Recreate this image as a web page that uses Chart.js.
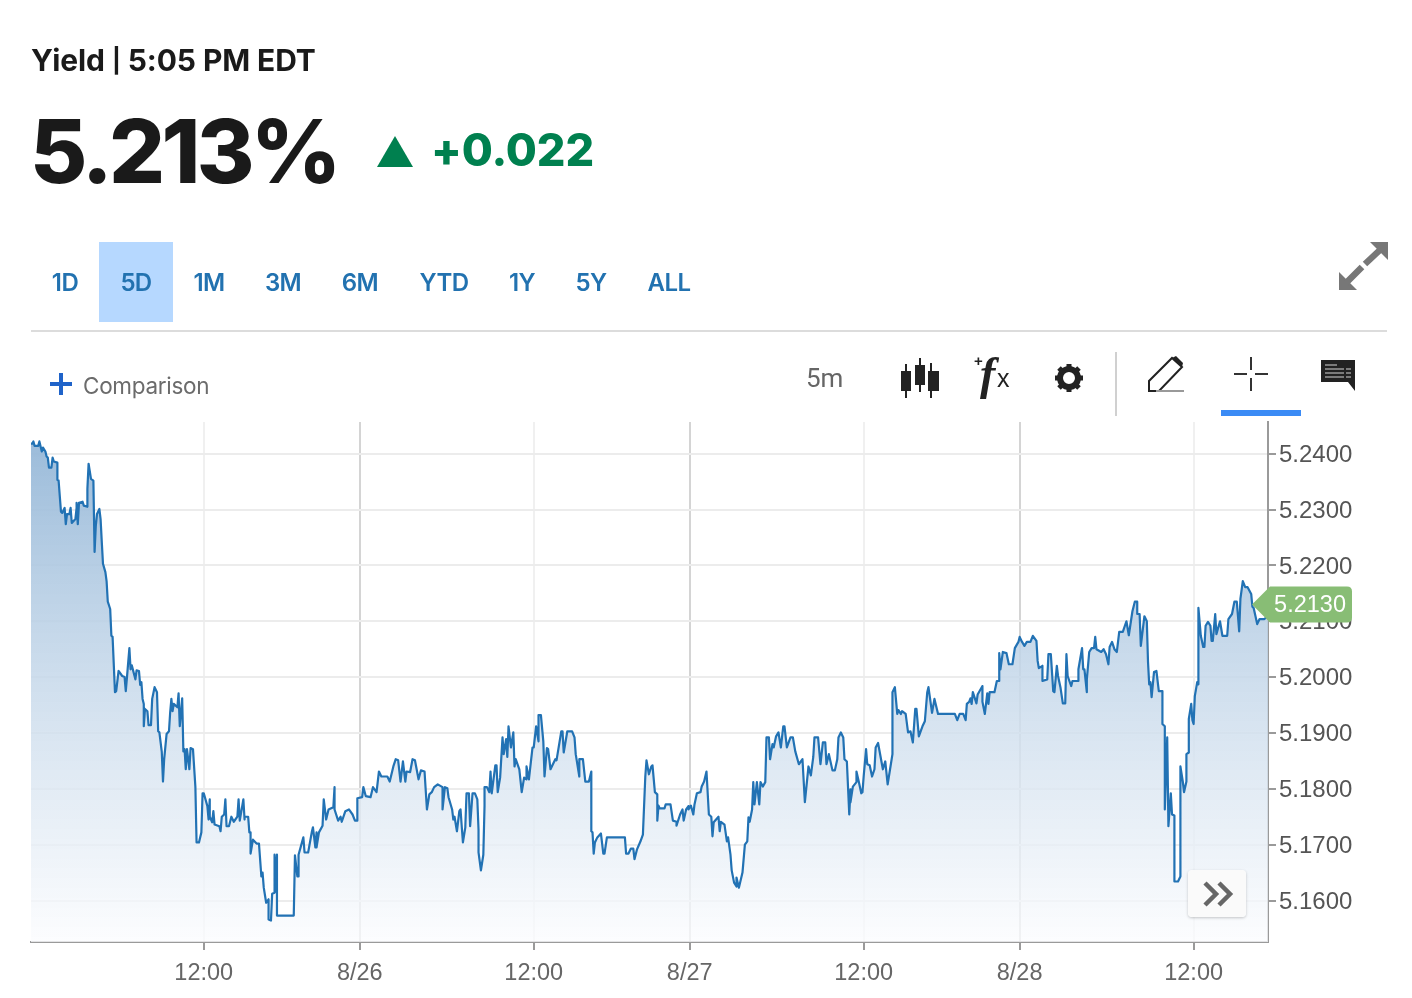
<!DOCTYPE html>
<html>
<head>
<meta charset="utf-8">
<title>Yield</title>
<script src="https://cdn.jsdelivr.net/npm/chart.js@4"></script>
<style>
  html, body { margin: 0; background: #fff; }
  body { position: relative; width: 1412px; height: 998px; overflow: hidden; font-family: Inter, Lato, sans-serif; }
  #chartBox { position: absolute; left: 0; top: 0; width: 1412px; height: 998px; }
  .abs { position: absolute; white-space: nowrap; }
  .tab { position: absolute; top: 242px; height: 80px; text-align: center; color: #2272b0; font: 600 24px/81px Inter, sans-serif; letter-spacing: -0.6px; }
  svg { position: absolute; overflow: visible; }
</style>
</head>
<body>
<div id="chartBox"><canvas id="yieldChart" width="1412" height="998"></canvas></div>

<!-- cabecalho -->
<div class="abs" style="left:31px;top:42px;font:700 30px/36px Inter,sans-serif;color:#1a1a1a;letter-spacing:-0.1px">Yield <span style="font-size:24px;vertical-align:2px">|</span> 5:05 PM EDT</div>
<div class="abs" style="left:30px;top:96px;font:800 88px/110px Inter,sans-serif;color:#1a1a1a;letter-spacing:-3.7px">5.213%</div>
<svg style="left:377px;top:136px" width="36" height="31"><path d="M18 0 L36 31 L0 31 Z" fill="#00804f"/></svg>
<div class="abs" style="left:431px;top:122px;font:800 45px/56px Inter,sans-serif;color:#00804f;letter-spacing:-0.1px">+0.022</div>

<!-- botoes de periodo -->
<div class="abs" style="left:99px;top:242px;width:74px;height:80px;background:#b6d8ff"></div>
<div class="tab" style="left:31px;width:68px">1D</div>
<div class="tab" style="left:99px;width:74px">5D</div>
<div class="tab" style="left:173px;width:72px">1M</div>
<div class="tab" style="left:247px;width:72px">3M</div>
<div class="tab" style="left:324px;width:72px">6M</div>
<div class="tab" style="left:408px;width:72px">YTD</div>
<div class="tab" style="left:486px;width:72px">1Y</div>
<div class="tab" style="left:555px;width:72px">5Y</div>
<div class="tab" style="left:633px;width:72px">ALL</div>
<svg style="left:1338px;top:241px" width="50" height="50">
  <path d="M32 1 L50 1 L50 19 Z M1 49 L1 31 L19 49 Z" fill="#777"/>
  <path d="M43 8 L27 23 M24 26 L8 42" stroke="#777" stroke-width="6.5" fill="none"/>
</svg>
<div class="abs" style="left:31px;top:330px;width:1356px;height:2px;background:#dcdcdc"></div>

<!-- barra de ferramentas -->
<svg style="left:50px;top:373px" width="22" height="22" fill="#1f63c9"><rect x="9" y="0" width="4" height="22"/><rect x="0" y="9" width="22" height="4"/></svg>
<div class="abs" style="left:83px;top:372px;font:400 22.5px/28px Inter,sans-serif;color:#6b6b6b;letter-spacing:-0.3px">Comparison</div>
<div class="abs" style="left:806px;top:362px;font:400 26px/32px Roboto,sans-serif;color:#666">5m</div>
<svg style="left:900px;top:358px" width="40" height="40" fill="#222">
  <rect x="5" y="6" width="2" height="34"/><rect x="1" y="13" width="10" height="20"/>
  <rect x="19" y="0" width="2" height="34"/><rect x="15" y="7" width="10" height="20"/>
  <rect x="30" y="5" width="2" height="35"/><rect x="28" y="13" width="11" height="20"/>
</svg>
<div class="abs" style="left:974px;top:350px;font:700 15px/22px 'Liberation Sans',sans-serif;color:#222">+</div>
<div class="abs" style="left:980px;top:348px;font:italic 700 46px/52px 'Liberation Serif',serif;color:#222">f</div>
<div class="abs" style="left:997px;top:364px;font:400 25px/28px 'Liberation Sans',sans-serif;color:#222">x</div>
<svg style="left:1055px;top:364px" width="28" height="28">
  <circle cx="14" cy="14" r="9" fill="none" stroke="#222" stroke-width="6"/>
  <g stroke="#222" stroke-width="5">
    <path d="M14 0 V5 M14 23 V28 M0 14 H5 M23 14 H28 M4 4 L8 8 M20 20 L24 24 M24 4 L20 8 M8 20 L4 24"/>
  </g>
</svg>
<div class="abs" style="left:1115px;top:352px;width:2px;height:64px;background:#d0d0d0"></div>
<svg style="left:1148px;top:356px" width="36" height="36">
  <path d="M1 35 L1 25 L24 2 L34 11 L11 35 Z" fill="none" stroke="#222" stroke-width="2"/>
  <path d="M24 2 L28 0 L35 7 L34 11 Z" fill="#222"/>
  <rect x="8" y="34" width="28" height="2" fill="#999"/>
</svg>
<svg style="left:1234px;top:357px" width="34" height="34" fill="#333">
  <rect x="16" y="0" width="2" height="13"/><rect x="16" y="21" width="2" height="13"/>
  <rect x="0" y="16" width="13" height="2"/><rect x="21" y="16" width="13" height="2"/>
</svg>
<div class="abs" style="left:1221px;top:410px;width:80px;height:6px;background:#3b8bf5"></div>
<svg style="left:1321px;top:360px" width="34" height="31">
  <path d="M0 0 H34 V31 L27 22 H0 Z" fill="#222"/>
  <path d="M4 5 H16 M4 9 H23 M4 13 H23 M4 17 H23 M25 9 H30 M25 13 H30 M25 17 H30" stroke="#999" stroke-width="1.5"/>
</svg>

<!-- botao de avancar -->
<div class="abs" style="left:1188px;top:870px;width:58px;height:47px;background:rgba(250,250,250,0.95);border-radius:4px;box-shadow:0 1px 3px rgba(0,0,0,0.22)">
  <svg style="left:16px;top:11px" width="30" height="26" fill="none" stroke="#666" stroke-width="4.5">
    <path d="M1 2 L12 13 L1 24 M15 2 L26 13 L15 24"/>
  </svg>
</div>

<script>
// Yield em barras de 5 minutos
const bars = [
  0,1,2,3,6,7,8,9,10,12,
  13,14,15,17,18,19,22,22,23,25,
  26,28,29,30,32,33,34,37,38,38,
  39,40,43,44,47,47,48,50,52,53,
  54,55,57,58,59,60,62,63,64,66,
  67,68,70,71,73,76,78,79,80,82,
  83,84,87,88,90,91,92,93,94,94,
  95,97,98,100,101,103,105,106,107,109,
  110,111,113,115,116,117,118,119,122,123,
  124,126,127,128,129,130,132,133,135,137,
  138,140,142,143,144,147,148,149,149,151,
  152,153,157,158,159,161,162,163,165,167,
  169,172,173,174,177,178,178,181,182,183,
  183,185,188,190,192,193,194,196,198,198,
  200,201,203,203,204,205,205,219,220,222,
  223,223,227,228,231,234,235,237,238,238,
  240,243,244,246,248,252,253,253,256,258,
  259,262,265,268,270,272,272,276,277,279,
  283,285,288,290,292,297,299,302,304,306,
  308,310,312,313,316,318,320,323,325,328,
  330,332,334,336,339,343,343,345,347,348,
  351,352,353,355,357,358,359,360,362,362,
  363,365,366,368,370,372,373,373,375,377,
  378,378,380,382,383,384,387,388,389,391,
  393,394,396,397,398,400,402,403,404,407,
  409,411,413,413,415,418,419,421,423,423,
  425,427,428,430,431,433,437,438,442,443,
  444,447,451,453,454,457,457,460,462,465,
  467,467,468,469,470,472,475,477,478,480,
  495,496,498,500,502,503,505,508,510,512,
  513,515,517,518,520,522,522,523,524,528,
  529,533,535,538,538,541,543,544,546,548,
  548,550,552,553,555,558,559,561,563,565,
  567,568,569,573,574,575,578,580,581,583,
  584,586,588,588,590,593,595,597,598,599,
  601,602,603,605,607,608,610,612,613,615,
  616,618,619,621,623,625,627,628,630,633,
  635,637,640,643,645,648,650,652,653,656,
  658,660,662,663,665,668,670,672,673,675,
  677,678,680,682,683,683,685,688,688,690,
  692,693,694,696,697,699,701,703,704,706,
  710,712,714,716,718,718,720,722,723,725,
  726,729,731,733,735,737,738,740,743,745,
  747,748,751,753,756,770,772,774,777,779,
  780,782,783,784,785,788,789,793,793,795,
  797,798,799,803,805,807,807,808,810,813,
  815,818,820,823,824,826,828,830,833,835,
  838,839,840,843,843,847,848,850,852,853,
  855,856,858,860,862,863,864,867,868,873,
  873,876,877,878,880,880,882,884,886,887,
  888,892,894,896,898,899,901,903,905,907,
  910,913,915,918,920,922,922,924,925,928,
  930,931,932,933,934,936,938,940,943,943,
  945,945,947,948,950,951,953,953,956,958,
  958,960,961,963,963,965,965,967,968,969,
  970,972,973,973,975,977,978,979,981,983,
  984,985,987,988,991,993,997,998,1001,1003,
  1005,1007,1008,1010,1012,1014,1017,1018,1019,1022,
  1024,1028,1031
];

const yields = [
  5.2418,5.2418,5.2422,5.2414,5.2414,5.2422,5.2413,5.2404,5.2411,5.2404,
  5.2395,5.2393,5.2375,5.2375,5.2393,5.2386,5.2384,5.2353,5.2352,5.2296,
  5.2294,5.2303,5.2274,5.2292,5.2292,5.2303,5.2276,5.2283,5.2303,5.2312,
  5.2274,5.2312,5.2314,5.2307,5.2305,5.2337,5.2382,5.2355,5.2352,5.2224,
  5.2271,5.2292,5.2301,5.2283,5.2242,5.2203,5.2188,5.2172,5.2135,5.2122,
  5.2074,5.2072,5.1973,5.1975,5.2011,5.2002,5.2000,5.1975,5.2000,5.2052,
  5.2014,5.2021,5.1996,5.2012,5.2011,5.1986,5.1991,5.1961,5.1952,5.1912,
  5.1943,5.1939,5.1914,5.1914,5.1961,5.1982,5.1973,5.1903,5.1901,5.1866,
  5.1813,5.1853,5.1898,5.1903,5.1937,5.1961,5.1939,5.1952,5.1946,5.1971,
  5.1912,5.1962,5.1867,5.1871,5.1835,5.1871,5.1835,5.1873,5.1871,5.1804,
  5.1704,5.1704,5.1722,5.1792,5.1792,5.1769,5.1745,5.1781,5.1750,5.1740,
  5.1760,5.1736,5.1733,5.1724,5.1750,5.1754,5.1781,5.1733,5.1733,5.1750,
  5.1741,5.1750,5.1781,5.1743,5.1781,5.1745,5.1750,5.1750,5.1722,5.1722,
  5.1684,5.1709,5.1702,5.1702,5.1643,5.1650,5.1623,5.1596,5.1602,5.1566,
  5.1564,5.1612,5.1614,5.1682,5.1616,5.1682,5.1573,5.1573,5.1681,5.1643,
  5.1643,5.1682,5.1713,5.1686,5.1686,5.1722,5.1731,5.1695,5.1722,5.1695,
  5.1722,5.1734,5.1781,5.1745,5.1763,5.1767,5.1803,5.1763,5.1743,5.1750,
  5.1741,5.1760,5.1763,5.1754,5.1743,5.1743,5.1783,5.1785,5.1803,5.1787,
  5.1785,5.1803,5.1794,5.1831,5.1822,5.1822,5.1813,5.1840,5.1853,5.1851,
  5.1813,5.1849,5.1813,5.1831,5.1830,5.1853,5.1851,5.1817,5.1833,5.1831,
  5.1763,5.1790,5.1794,5.1803,5.1808,5.1803,5.1763,5.1803,5.1801,5.1785,
  5.1763,5.1745,5.1750,5.1724,5.1760,5.1763,5.1733,5.1704,5.1731,5.1733,
  5.1792,5.1792,5.1733,5.1792,5.1792,5.1781,5.1727,5.1686,5.1654,5.1682,
  5.1769,5.1803,5.1803,5.1794,5.1831,5.1792,5.1842,5.1842,5.1794,5.1820,
  5.1892,5.1862,5.1889,5.1857,5.1912,5.1874,5.1901,5.1840,5.1853,5.1835,
  5.1794,5.1820,5.1817,5.1840,5.1817,5.1874,5.1874,5.1912,5.1885,5.1932,
  5.1932,5.1885,5.1822,5.1873,5.1871,5.1835,5.1853,5.1851,5.1903,5.1903,
  5.1865,5.1903,5.1903,5.1892,5.1862,5.1822,5.1853,5.1853,5.1813,5.1813,
  5.1831,5.1724,5.1722,5.1684,5.1704,5.1713,5.1720,5.1684,5.1684,5.1713,
  5.1713,5.1684,5.1684,5.1693,5.1693,5.1674,5.1691,5.1706,5.1718,5.1822,
  5.1851,5.1826,5.1840,5.1842,5.1794,5.1790,5.1743,5.1770,5.1765,5.1765,
  5.1772,5.1772,5.1743,5.1741,5.1734,5.1754,5.1763,5.1743,5.1763,5.1769,
  5.1763,5.1770,5.1754,5.1772,5.1792,5.1794,5.1804,5.1813,5.1831,5.1754,
  5.1750,5.1715,5.1740,5.1750,5.1724,5.1741,5.1736,5.1706,5.1713,5.1682,
  5.1654,5.1632,5.1625,5.1641,5.1623,5.1650,5.1700,5.1706,5.1749,5.1741,
  5.1763,5.1812,5.1772,5.1812,5.1772,5.1812,5.1804,5.1812,5.1892,5.1892,
  5.1853,5.1880,5.1874,5.1894,5.1901,5.1874,5.1912,5.1912,5.1874,5.1892,
  5.1892,5.1867,5.1844,5.1853,5.1776,5.1840,5.1824,5.1857,5.1892,5.1892,
  5.1844,5.1883,5.1883,5.1844,5.1862,5.1833,5.1833,5.1853,5.1892,5.1901,
  5.1892,5.1853,5.1849,5.1754,5.1799,5.1776,5.1804,5.1812,5.1831,5.1812,
  5.1792,5.1794,5.1822,5.1871,5.1844,5.1842,5.1822,5.1835,5.1874,5.1882,
  5.1835,5.1849,5.1808,5.1835,5.1862,5.1973,5.1982,5.1934,5.1941,5.1934,
  5.1939,5.1934,5.1901,5.1903,5.1883,5.1943,5.1943,5.1894,5.1912,5.1921,
  5.1973,5.1982,5.1936,5.1961,5.1934,5.1934,5.1923,5.1934,5.1934,5.1923,
  5.1952,5.1956,5.1962,5.1952,5.1973,5.1953,5.1969,5.1984,5.1956,5.1934,
  5.1971,5.1952,5.1973,5.1973,5.1993,5.1993,5.2043,5.2014,5.2045,5.2043,
  5.2023,5.2023,5.2052,5.2063,5.2072,5.2063,5.2056,5.2063,5.2063,5.2074,
  5.2065,5.2029,5.2016,5.2020,5.1993,5.1996,5.2041,5.2041,5.1975,5.1973,
  5.2020,5.2002,5.1982,5.1953,5.1953,5.2041,5.2002,5.1984,5.1993,5.1993,
  5.2014,5.2052,5.2014,5.2014,5.1973,5.1996,5.2045,5.2052,5.2052,5.2072,
  5.2050,5.2045,5.2050,5.2041,5.2023,5.2054,5.2063,5.2050,5.2045,5.2081,
  5.2081,5.2100,5.2075,5.2118,5.2135,5.2135,5.2113,5.2113,5.2056,5.2109,
  5.2100,5.2027,5.1987,5.1991,5.1964,5.2009,5.2011,5.1975,5.1975,5.1916,
  5.1912,5.1763,5.1892,5.1733,5.1792,5.1754,5.1752,5.1634,5.1634,5.1643,
  5.1840,5.1813,5.1794,5.1813,5.1862,5.1865,5.1925,5.1952,5.1923,5.1916,
  5.1966,5.1991,5.1987,5.2124,5.2074,5.2054,5.2054,5.2092,5.2099,5.2092,
  5.2065,5.2065,5.2113,5.2077,5.2100,5.2074,5.2074,5.2104,5.2113,5.2135,
  5.2135,5.2082,5.2140,5.2172,5.2161,5.2161,5.2149,5.2126,5.2124,5.2095,
  5.2104,5.2104,5.2110
];

// Marcas dos eixos
const xTickBars = [144, 274, 419, 549, 694, 824, 969];
const xTickLabels = ['12:00', '8/26', '12:00', '8/27', '12:00', '8/28', '12:00'];
const dayBars = [274, 549, 824];
const yTicks = [5.16, 5.17, 5.18, 5.19, 5.20, 5.21, 5.22, 5.23, 5.24];
const lastYield = 5.213;

// Etiqueta verde do ultimo valor
const lastValueTag = {
  id: 'lastValueTag',
  beforeDraw(chart) {
    // desce um pouco os rotulos do eixo y, como no original
    chart.scales.y.getLabelItems(chart.chartArea).forEach(item => { item.options.translation[1] += 1.5; });
  },
  afterDraw(chart) {
    const c = chart.ctx;
    const y = chart.scales.y.getPixelForValue(lastYield);
    c.save();
    c.fillStyle = '#88bd75';
    c.beginPath();
    c.moveTo(1252, y);
    c.lineTo(1270, y - 18);
    c.lineTo(1347, y - 18);
    c.quadraticCurveTo(1352, y - 18, 1352, y - 13);
    c.lineTo(1352, y + 13);
    c.quadraticCurveTo(1352, y + 18, 1347, y + 18);
    c.lineTo(1270, y + 18);
    c.closePath();
    c.fill();
    c.fillStyle = '#fff';
    c.font = '23.5px "Liberation Sans", sans-serif';
    c.textAlign = 'right';
    c.textBaseline = 'middle';
    c.fillText(lastYield.toFixed(4), 1346, y + 1);
    c.restore();
  }
};

Chart.defaults.font.family = '"Liberation Sans", sans-serif';

new Chart(document.getElementById('yieldChart'), {
  type: 'line',
  data: {
    datasets: [{
      label: 'Yield',
      data: bars.map((b, i) => ({ x: b, y: yields[i] })),
      borderColor: '#2272b4',
      borderWidth: 2.2,
      borderJoinStyle: 'round',
      pointRadius: 0,
      tension: 0,
      fill: 'start',
      backgroundColor(ctx) {
        const area = ctx.chart.chartArea;
        if (!area) return 'transparent';
        const g = ctx.chart.ctx.createLinearGradient(0, area.top + 20, 0, area.bottom);
        g.addColorStop(0, 'rgba(150,184,216,0.95)');
        g.addColorStop(1, 'rgba(251,252,254,0.75)');
        return g;
      }
    }]
  },
  plugins: [lastValueTag],
  options: {
    responsive: false,
    animation: false,
    layout: { padding: { left: 31, top: 422, right: 0, bottom: 0 } },
    plugins: { legend: { display: false }, tooltip: { enabled: false } },
    scales: {
      x: {
        type: 'linear',
        min: 0,
        max: 1031,
        afterFit(scale) { scale.height = 56; },
        afterBuildTicks(scale) { scale.ticks = xTickBars.map(v => ({ value: v })); },
        border: { color: '#9a9a9a', width: 2 },
        grid: {
          color: ctx => dayBars.includes(ctx.tick.value) ? '#d4d4d4' : '#f0f0f0',
          lineWidth: 2,
          tickColor: '#9a9a9a',
          tickLength: 8
        },
        ticks: {
          autoSkip: false,
          maxRotation: 0,
          padding: 9,
          color: '#666',
          font: { size: 23.5 },
          callback: v => xTickLabels[xTickBars.indexOf(v)]
        }
      },
      y: {
        position: 'right',
        min: 5.15257,
        max: 5.24568,
        afterFit(scale) { scale.width = 144; },
        afterBuildTicks(scale) { scale.ticks = yTicks.map(v => ({ value: v })); },
        border: { color: '#9a9a9a', width: 2 },
        grid: {
          color: '#ececec',
          lineWidth: 2,
          tickColor: '#9a9a9a',
          tickLength: 8
        },
        ticks: {
          padding: 3,
          color: '#555',
          font: { size: 24 },
          callback: v => v.toFixed(4)
        }
      }
    }
  }
});
</script>
</body>
</html>
